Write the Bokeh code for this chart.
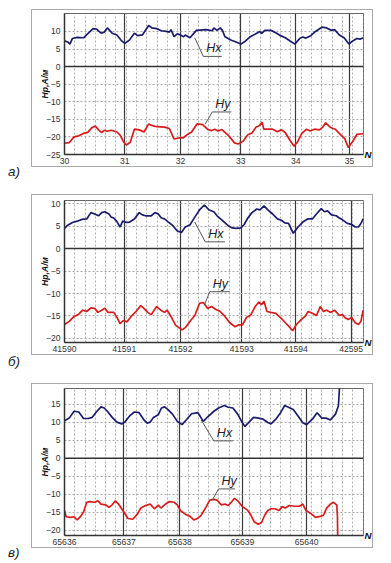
import numpy as np
from bokeh.plotting import figure
from bokeh.models import FixedTicker, Span, Label, Grid, Range1d, LinearAxis, Div, Spacer
from bokeh.layouts import column, row
from bokeh.embed import file_html
from bokeh.resources import INLINE

# ---------------- data ----------------
a_marks = [0.0, 1.061, 2.039, 3.101, 4.067, 5.011]
a_labels = ["30", "31", "32", "33", "34", "35"]
a_yticks = [-25, -20, -15, -10, -5, 0, 5, 10]
a_hx_t = [0.000, 0.056, 0.095, 0.140, 0.223, 0.335, 0.419, 0.503, 0.559, 0.642, 0.698, 0.754, 0.838, 0.922,
          1.006, 1.061, 1.145, 1.229, 1.285, 1.369, 1.480, 1.536, 1.620, 1.704, 1.788, 1.844, 1.872, 1.927,
          1.983, 2.039, 2.095, 2.123, 2.207, 2.318, 2.486, 2.598, 2.626, 2.682, 2.737, 2.777, 2.821, 2.933,
          3.017, 3.101, 3.184, 3.268, 3.380, 3.436, 3.464, 3.520, 3.631, 3.715, 3.799, 3.883, 3.966, 4.050,
          4.134, 4.190, 4.246, 4.330, 4.413, 4.525, 4.609, 4.693, 4.749, 4.832, 4.916, 5.000, 5.067, 5.140,
          5.196, 5.251]
a_hx = [7.3, 7.0, 6.4, 8.0, 8.3, 8.2, 9.5, 10.8, 10.7, 9.5, 9.8, 11.0, 9.5, 9.0,
        7.3, 6.6, 7.6, 9.5, 8.8, 9.0, 11.7, 11.0, 10.8, 10.2, 10.0, 9.8, 10.5, 8.5,
        9.3, 9.0, 8.5, 9.0, 8.2, 10.3, 10.5, 10.2, 11.0, 10.3, 11.0, 10.3, 8.5, 7.5,
        7.0, 6.4, 7.3, 8.5, 9.5, 10.0, 9.4, 10.3, 10.3, 9.6, 8.8, 8.2, 7.3, 6.4,
        8.0, 8.4, 8.1, 8.8, 10.0, 11.2, 11.0, 10.3, 10.5, 9.0, 8.2, 6.4, 7.3, 8.0,
        7.8, 8.2]
a_hy_t = [0.000, 0.084, 0.168, 0.251, 0.335, 0.408, 0.486, 0.542, 0.598, 0.654, 0.698, 0.754, 0.821, 0.922,
          0.978, 1.034, 1.089, 1.156, 1.229, 1.313, 1.397, 1.480, 1.547, 1.620, 1.760, 1.844, 1.927, 2.011,
          2.084, 2.162, 2.235, 2.330, 2.430, 2.514, 2.587, 2.642, 2.698, 2.765, 2.877, 2.989, 3.056, 3.140,
          3.223, 3.296, 3.369, 3.425, 3.475, 3.503, 3.659, 3.743, 3.816, 3.883, 3.966, 4.034, 4.095, 4.173,
          4.257, 4.318, 4.397, 4.480, 4.536, 4.592, 4.676, 4.760, 4.844, 4.927, 4.989, 5.067, 5.140, 5.251]
a_hy = [-21.8, -21.6, -20.0, -19.7, -19.0, -18.7, -17.3, -16.9, -18.0, -18.8, -18.1, -18.4, -18.1, -18.6,
        -19.5, -21.3, -22.3, -21.5, -17.8, -18.0, -18.6, -16.3, -16.8, -17.1, -17.2, -17.6, -20.6, -20.3,
        -20.3, -19.3, -18.6, -16.3, -16.5, -17.8, -18.2, -17.8, -18.3, -17.9, -19.5, -21.7, -22.0, -21.2,
        -19.4, -18.9, -17.2, -16.8, -15.8, -17.8, -17.8, -18.5, -18.0, -18.8, -21.0, -22.6, -21.5, -19.0,
        -17.8, -18.3, -17.8, -18.0, -17.3, -16.0, -17.3, -17.8, -19.2, -20.5, -23.0, -21.3, -19.3, -19.1]

b_marks = [0.0, 1.050, 2.039, 3.117, 4.067, 5.039]
b_labels = ["41590", "41591", "41592", "41593", "41594", "42595"]
b_yticks = [-20, -15, -10, -5, 0, 5, 10]
b_hx_t = [0.000, 0.056, 0.140, 0.223, 0.307, 0.391, 0.464, 0.531, 0.598, 0.654, 0.709, 0.782, 0.821, 0.866,
          0.922, 0.978, 1.022, 1.089, 1.145, 1.229, 1.313, 1.369, 1.425, 1.525, 1.592, 1.648, 1.704, 1.760,
          1.816, 1.899, 1.983, 2.056, 2.123, 2.207, 2.291, 2.374, 2.458, 2.542, 2.626, 2.682, 2.765, 2.877,
          2.950, 3.017, 3.101, 3.156, 3.223, 3.296, 3.380, 3.436, 3.508, 3.575, 3.659, 3.743, 3.816, 3.872,
          3.939, 4.022, 4.106, 4.190, 4.274, 4.358, 4.430, 4.514, 4.570, 4.626, 4.693, 4.777, 4.832, 4.888,
          4.972, 5.045, 5.112, 5.168, 5.212, 5.251]
b_hx = [4.5, 5.2, 5.8, 6.1, 6.5, 6.6, 8.0, 7.7, 7.3, 8.0, 8.2, 7.7, 7.0, 6.8,
        6.0, 4.8, 6.1, 5.8, 5.9, 6.6, 8.0, 7.5, 7.3, 7.3, 8.0, 7.7, 6.8, 6.6,
        6.0, 5.2, 3.9, 3.6, 4.8, 5.3, 7.0, 8.6, 9.7, 8.6, 8.2, 7.3, 6.4, 5.1,
        4.6, 4.5, 4.6, 5.3, 6.8, 8.0, 8.8, 8.6, 9.5, 8.6, 7.7, 6.6, 6.3, 5.7,
        5.6, 3.4, 4.8, 5.9, 6.6, 6.6, 7.7, 8.9, 8.2, 8.4, 7.5, 7.3, 6.8, 6.4,
        5.6, 5.4, 4.8, 4.8, 5.6, 6.6]
b_hy_t = [0.000, 0.084, 0.168, 0.251, 0.318, 0.391, 0.464, 0.531, 0.587, 0.654, 0.709, 0.765, 0.866, 0.922,
          0.978, 1.034, 1.101, 1.173, 1.257, 1.341, 1.397, 1.464, 1.525, 1.620, 1.693, 1.760, 1.804, 1.872,
          1.955, 2.067, 2.123, 2.218, 2.291, 2.374, 2.441, 2.514, 2.587, 2.654, 2.737, 2.821, 2.905, 3.000,
          3.056, 3.128, 3.201, 3.268, 3.352, 3.419, 3.464, 3.508, 3.559, 3.631, 3.715, 3.816, 3.883, 3.966,
          4.011, 4.078, 4.162, 4.229, 4.285, 4.358, 4.430, 4.497, 4.553, 4.609, 4.676, 4.749, 4.832, 4.888,
          4.933, 4.989, 5.045, 5.112, 5.168, 5.212, 5.251]
b_hy = [-16.9, -16.2, -15.1, -14.6, -13.7, -14.0, -13.2, -13.3, -14.2, -13.7, -13.3, -14.2, -14.2, -15.3,
        -16.7, -16.0, -16.3, -15.1, -14.0, -12.7, -13.3, -14.2, -14.7, -12.9, -13.7, -14.2, -13.7, -15.1,
        -17.1, -18.1, -17.6, -16.0, -14.9, -12.2, -12.0, -13.3, -12.9, -13.5, -14.0, -15.1, -16.5, -17.4,
        -17.0, -17.0, -15.3, -14.9, -12.9, -11.9, -12.5, -11.7, -14.0, -14.2, -14.4, -15.6, -16.5, -17.6,
        -18.3, -16.9, -15.8, -15.1, -14.0, -14.4, -14.9, -12.9, -14.0, -13.7, -14.2, -13.7, -14.9, -14.7,
        -15.4, -15.8, -15.3, -16.5, -16.9, -16.2, -13.7]

c_marks = [0.0, 1.045, 2.028, 3.128, 4.257]
c_labels = ["65636", "65637", "65638", "65639", "65640"]
c_yticks = [-20, -15, -10, -5, 0, 5, 10, 15]
c_hx_t = [0.000, 0.084, 0.168, 0.251, 0.335, 0.419, 0.486, 0.559, 0.642, 0.698, 0.754, 0.838, 0.922, 1.006,
          1.061, 1.145, 1.229, 1.313, 1.397, 1.453, 1.508, 1.564, 1.648, 1.704, 1.760, 1.816, 1.899, 1.983,
          2.067, 2.151, 2.235, 2.346, 2.441, 2.514, 2.626, 2.709, 2.810, 2.877, 2.961, 3.045, 3.128, 3.173,
          3.240, 3.324, 3.408, 3.492, 3.575, 3.631, 3.715, 3.799, 3.872, 3.939, 4.022, 4.106, 4.190, 4.257,
          4.358, 4.441, 4.525, 4.598, 4.676, 4.765, 4.816, 4.844]
c_hx = [10.4, 11.1, 13.0, 12.8, 11.0, 11.0, 11.3, 12.8, 14.2, 13.9, 13.0, 11.3, 10.0, 9.5,
        10.0, 11.7, 12.8, 12.6, 10.6, 9.7, 10.0, 11.3, 12.0, 13.9, 14.2, 13.5, 12.2, 10.2,
        9.3, 10.8, 12.3, 12.6, 10.2, 11.4, 13.0, 13.9, 14.6, 14.1, 13.9, 12.2, 9.8, 8.8,
        9.9, 11.3, 11.1, 10.8, 9.9, 9.5, 10.8, 12.6, 14.6, 14.1, 13.5, 11.7, 9.8, 9.3,
        10.8, 12.6, 11.1, 11.1, 10.6, 12.2, 14.5, 22.0]
c_hy_t = [0.000, 0.028, 0.112, 0.168, 0.223, 0.279, 0.335, 0.391, 0.447, 0.531, 0.587, 0.642, 0.726, 0.782,
          0.838, 0.894, 0.950, 1.034, 1.117, 1.201, 1.285, 1.341, 1.425, 1.508, 1.581, 1.648, 1.693, 1.760,
          1.844, 1.927, 1.983, 2.039, 2.123, 2.207, 2.274, 2.335, 2.402, 2.486, 2.553, 2.626, 2.682, 2.754,
          2.821, 2.877, 2.933, 2.989, 3.045, 3.128, 3.212, 3.268, 3.335, 3.408, 3.464, 3.520, 3.575, 3.631,
          3.704, 3.771, 3.827, 3.883, 3.950, 4.050, 4.134, 4.190, 4.246, 4.330, 4.413, 4.497, 4.553, 4.609,
          4.676, 4.732, 4.788, 4.799, 4.804]
c_hy = [-14.5, -16.2, -16.4, -16.2, -17.1, -16.2, -14.9, -12.2, -12.0, -12.2, -11.8, -12.7, -12.9, -13.6,
        -12.9, -11.8, -12.7, -14.7, -16.7, -16.9, -15.4, -13.8, -13.1, -12.7, -14.0, -13.0, -13.8, -12.9,
        -12.0, -12.2, -12.9, -14.5, -15.5, -16.1, -17.1, -16.7, -15.8, -13.6, -11.6, -11.4, -11.6, -12.9,
        -12.7, -13.1, -12.2, -11.1, -11.8, -13.4, -14.3, -15.5, -17.6, -18.3, -17.8, -15.8, -14.5, -14.0,
        -14.0, -14.5, -13.4, -13.8, -13.1, -13.3, -13.3, -12.7, -14.5, -15.3, -16.4, -16.1, -15.8, -13.8,
        -12.7, -12.2, -13.0, -16.2, -23.0]

# ---------------- styling ----------------
HX_COLOR = "#1c1c6e"
HY_COLOR = "#d81c1c"
FONT = "Liberation Sans"
X_END = 5.257
FIG_W = 342
NAME_W = 21
RIGHT_PAD = 9
BOX_CSS = {"border": "1.5px solid #a9a9a9"}
TICK_FS = "8.6px"


def panel(name, marks, labels, yticks, yr, hx_t, hx, hy_t, hy,
          hx_ann, hy_ann, height, btop, bbot, name_pad):
    p = figure(width=FIG_W, height=height, x_range=Range1d(0, X_END), y_range=Range1d(*yr),
               output_backend="svg", toolbar_location=None, styles=BOX_CSS)
    p.min_border_left = 32
    p.min_border_right = 8
    p.min_border_top = btop
    p.min_border_bottom = bbot
    p.background_fill_color = "white"
    p.outline_line_color = "#666666"
    p.outline_line_width = 1

    p.xaxis.ticker = FixedTicker(ticks=marks)
    p.xaxis.major_label_overrides = {m: l for m, l in zip(marks, labels)}
    p.xaxis.major_tick_line_color = None
    p.xaxis.major_tick_out = 0
    p.xaxis.major_tick_in = 0
    p.xaxis.minor_tick_line_color = None
    p.xaxis.axis_line_color = "#333333"
    p.xaxis.axis_line_width = 1.5
    p.xaxis.major_label_text_font = FONT
    p.xaxis.major_label_text_font_size = TICK_FS
    p.xaxis.major_label_text_color = "#333333"
    p.xaxis.major_label_standoff = 3

    p.yaxis.ticker = FixedTicker(ticks=yticks)
    p.yaxis.major_tick_line_color = None
    p.yaxis.major_tick_out = 0
    p.yaxis.major_tick_in = 0
    p.yaxis.minor_tick_line_color = None
    p.yaxis.axis_line_color = "#333333"
    p.yaxis.axis_line_width = 1.5
    p.yaxis.major_label_text_font = FONT
    p.yaxis.major_label_text_font_size = TICK_FS
    p.yaxis.major_label_text_color = "#333333"
    p.yaxis.major_label_standoff = 4
    p.yaxis.axis_label = "Hp,A/м"
    p.yaxis.axis_label_text_font = FONT
    p.yaxis.axis_label_text_font_style = "bold italic"
    p.yaxis.axis_label_text_font_size = TICK_FS
    p.yaxis.axis_label_text_color = "#111111"
    p.yaxis.axis_label_standoff = -7

    # "N" marker right of the x axis end
    n_axis = LinearAxis(ticker=FixedTicker(ticks=[yr[0]]), major_label_overrides={yr[0]: "N"},
                        axis_line_color=None, major_tick_line_color=None, minor_tick_line_color=None,
                        major_tick_out=0, major_tick_in=0,
                        major_label_standoff=1, major_label_text_font=FONT,
                        major_label_text_font_style="bold italic", major_label_text_font_size="9.6px",
                        major_label_text_color="#111111")
    p.add_layout(n_axis, "right")

    p.xgrid.ticker = FixedTicker(ticks=marks)
    p.xgrid.grid_line_color = "#3a3a3a"
    p.xgrid.grid_line_width = 1.2
    p.ygrid.grid_line_color = "#aaaaaa"
    p.ygrid.grid_line_dash = "2 2"
    minor = Grid(dimension=0, ticker=FixedTicker(ticks=list(np.arange(0.181, X_END, 0.181))),
                 grid_line_color="#b0b0b0", grid_line_dash="2 2", level="underlay")
    p.add_layout(minor)
    p.add_layout(Span(location=0, dimension="width", line_color="#333333", line_width=1.5))

    p.line(hx_t, hx, line_color=HX_COLOR, line_width=1.7)
    p.line(hy_t, hy, line_color=HY_COLOR, line_width=1.7)

    for txt, (lx, ly, ux0, ux1, uy) in (("Hx", hx_ann), ("Hy", hy_ann)):
        p.line([lx, ux0, ux1], [ly, uy, uy], line_color="#555555", line_width=1)
        p.add_layout(Label(x=ux0, y=uy, x_offset=3, y_offset=1, text=txt,
                           text_font=FONT, text_font_style="italic", text_font_size="12.5px",
                           text_color="#222222", text_baseline="bottom"))

    outer_h = height + 3
    tag = Div(text=f'<div style="padding-top:{name_pad}px;padding-left:3px;font-family:\'Liberation Sans\';'
                   f'font-style:italic;font-size:13.4px;color:#222;line-height:15px">{name}</div>',
              width=NAME_W, height=outer_h, styles={"overflow": "visible"})
    return row(tag, p, Spacer(width=RIGHT_PAD, height=outer_h), spacing=0)


ra = panel("а)", a_marks, a_labels, a_yticks, (-25, 15.1), a_hx_t, a_hx, a_hy_t, a_hy,
           (2.29, 8.2, 2.441, 2.765, 2.9), (2.475, -16.3, 2.598, 2.933, -12.9),
           158, 3, 14, 150)
rb = panel("б)", b_marks, b_labels, b_yticks, (-20.9, 10.7), b_hx_t, b_hx, b_hy_t, b_hy,
           (2.29, 5.9, 2.475, 2.82, 1.5), (2.458, -12.6, 2.553, 2.905, -9.6),
           161, 5, 14, 155)
rc = panel("в)", c_marks, c_labels, c_yticks, (-21.4, 19.3), c_hx_t, c_hx, c_hy_t, c_hy,
           (2.402, 10.6, 2.626, 2.96, 4.8), (2.598, -11.6, 2.709, 3.0, -8.5),
           165, 4, 14, 157)

layout = column(Spacer(height=9), ra, Spacer(height=14), rb, Spacer(height=15), rc, Spacer(height=9),
                spacing=0)
open("out.html", "w").write(file_html(layout, INLINE))
